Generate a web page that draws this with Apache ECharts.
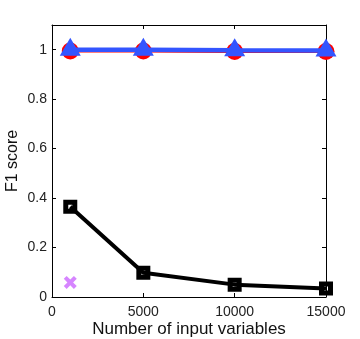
<!DOCTYPE html>
<html><head><meta charset="utf-8">
<script src="https://cdn.jsdelivr.net/npm/echarts@6/dist/echarts.min.js"></script>
<style>html,body{margin:0;padding:0;background:#fff}#c{width:360px;height:339px}</style>
</head><body><div id="c"></div>
<script>
const xValues = [1000, 5000, 10000, 15000];
const redCircle = [0.995, 0.995, 0.993, 0.993];
const blueTriangle = [1.0, 1.0, 0.998, 0.997];
const blackSquare = [0.365, 0.098, 0.05, 0.034];
const magentaX = [[1000, 0.059]];
const xTicks = [0, 5000, 10000, 15000];
const yTicks = [0, 0.2, 0.4, 0.6, 0.8, 1];

const pair = (ys) => xValues.map((x, i) => [x, ys[i]]);
const crossPath = 'path://M0,2.2 L2.2,0 L5,2.8 L7.8,0 L10,2.2 L7.2,5 L10,7.8 L7.8,10 L5,7.2 L2.2,10 L0,7.8 L2.8,5 Z';
const squarePath = 'path://M0,0 L14,0 L14,14 L0,14 Z M5,5 L5,9 L9,9 L9,5 Z';
const font = 'Liberation Sans, Arial, sans-serif';

const chart = echarts.init(document.getElementById('c'));
const axisCommon = {
  axisLine: {show: true, onZero: false, lineStyle: {color: '#000', width: 1}},
  axisTick: {show: true, inside: true, length: 4, lineStyle: {color: '#000'}},
  splitLine: {show: false}
};
chart.setOption({
  animation: false,
  grid: {left: 52, right: 34, top: 25, bottom: 42, containLabel: false, outerBoundsMode: 'none'},
  xAxis: [
    Object.assign({type: 'value', min: 0, max: 15000, interval: 5000, position: 'bottom',
      name: 'Number of input variables', nameLocation: 'middle', nameGap: 24, nameMoveOverlap: false,
      nameTextStyle: {fontSize: 17, color: '#111', fontFamily: font},
      axisLabel: {fontSize: 14, color: '#222', fontFamily: font, margin: 8,
        formatter: v => xTicks.includes(v) ? String(v) : ''}}, axisCommon),
    Object.assign({type: 'value', min: 0, max: 15000, interval: 5000, position: 'top',
      axisLabel: {show: false}}, axisCommon)
  ],
  yAxis: [
    Object.assign({type: 'value', min: 0, max: 1.1, interval: 0.2, position: 'left',
      name: 'F1 score', nameLocation: 'middle', nameGap: 31, nameRotate: 90, nameMoveOverlap: false,
      nameTextStyle: {fontSize: 16, color: '#111', fontFamily: font},
      axisLabel: {fontSize: 14, color: '#222', fontFamily: font, margin: 5,
        formatter: v => { const t = yTicks.find(y => Math.abs(y - v) < 1e-9); return t === undefined ? '' : String(t); }}}, axisCommon),
    Object.assign({type: 'value', min: 0, max: 1.1, interval: 0.2, position: 'right',
      axisLabel: {show: false}}, axisCommon)
  ],
  series: [
    {type: 'line', data: pair(redCircle), symbol: 'circle', symbolSize: 17,
      lineStyle: {color: '#ff0000', width: 3}, itemStyle: {color: '#ff0000'}, z: 2},
    {type: 'line', data: pair(blueTriangle), symbol: 'triangle', symbolSize: [21, 18], symbolOffset: [0, -3],
      lineStyle: {color: '#3355ff', width: 4.5}, itemStyle: {color: '#3355ff'}, z: 3},
    {type: 'line', data: pair(blackSquare), symbol: squarePath, symbolSize: 14,
      lineStyle: {color: '#000', width: 4}, itemStyle: {color: '#000'}, z: 3},
    {type: 'scatter', data: magentaX, symbol: crossPath, symbolSize: 13,
      itemStyle: {color: '#cc66ff'}, z: 3}
  ]
});
</script></body></html>
